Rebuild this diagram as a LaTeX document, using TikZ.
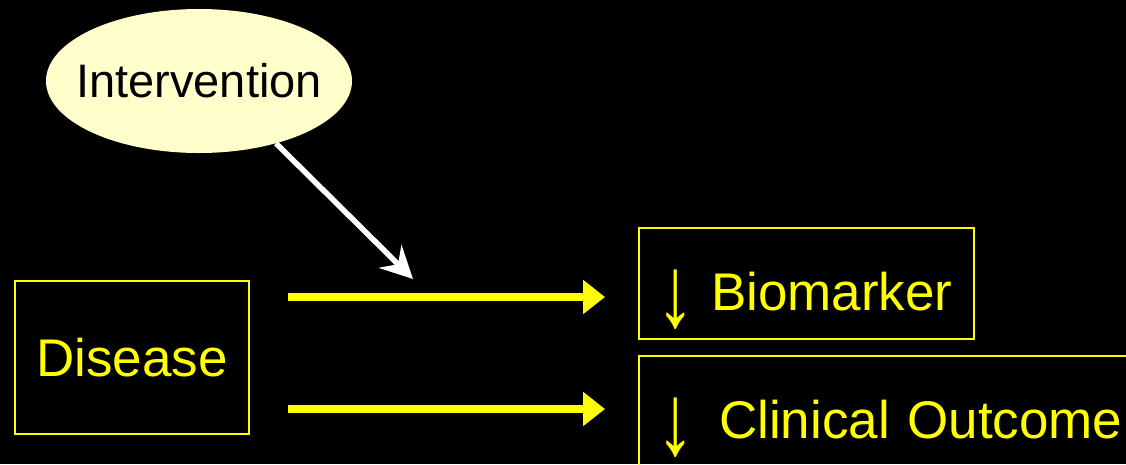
\documentclass[tikz,border=0pt]{standalone}
\usepackage{fontspec}
\usepackage{graphicx}
\setmainfont{Liberation Sans}
\usetikzlibrary{arrows.meta,shapes.geometric}
\definecolor{ylw}{HTML}{FFFF00}
\definecolor{pale}{HTML}{FFFFCC}
\newcommand{\dnarr}{\makebox[34pt][c]{\raisebox{-16pt}{\scalebox{1.45}[1.9]{↓}}}}
\begin{document}
\begin{tikzpicture}[x=1pt,y=-1pt,
  ybox/.style={draw=ylw, line width=2pt, text=ylw, font=\fontsize{53}{60}\selectfont},
  yarrow/.style={draw=ylw, line width=8pt, -{Triangle[length=22pt,width=33pt]}, ylw},
  warrow/.style={draw=white, line width=5.5pt, -{Stealth[length=32pt,width=32pt,inset=11pt]}, white}]
\useasboundingbox[fill=black] (0,0) rectangle (1126,464);
\node[ellipse, fill=pale, minimum width=306pt, minimum height=144pt, inner sep=0pt,
  font=\fontsize{47}{56}\selectfont] (int) at (199,81)
  {\makebox[0pt]{\raisebox{-16.8pt}[0pt][0pt]{Intervention}}};
\node[ybox, minimum width=234pt, minimum height=153pt, inner sep=0pt] (dis) at (132,357.5) {Disease};
\node[ybox, anchor=base west, text height=82pt, text depth=29pt, inner ysep=0pt, inner xsep=20pt,
  text width=295pt, align=left] (bio) at (638,310) {\dnarr\hspace{18pt}Biomarker};
\node[ybox, anchor=base west, text height=82pt, text depth=40pt, inner ysep=0pt, inner xsep=20pt,
  text width=520pt, align=left] (clin) at (638,438) {\dnarr\hspace{26pt}Clinical Outcome};
\coordinate (wt) at (413,279);
\coordinate (s1) at ([shift={(38pt,60.5pt)}]dis.east);
\coordinate (s2) at ([shift={(38pt,-51.5pt)}]dis.east);
\coordinate (e1) at ([xshift=-33pt]bio.west);
\coordinate (e2) at ([xshift=-33pt]clin.west);
\draw[warrow] (int.-39) -- (wt);
\draw[yarrow] (s1) -- (s1 -| e1);
\draw[yarrow] (s2) -- (s2 -| e2);
\end{tikzpicture}
\end{document}
